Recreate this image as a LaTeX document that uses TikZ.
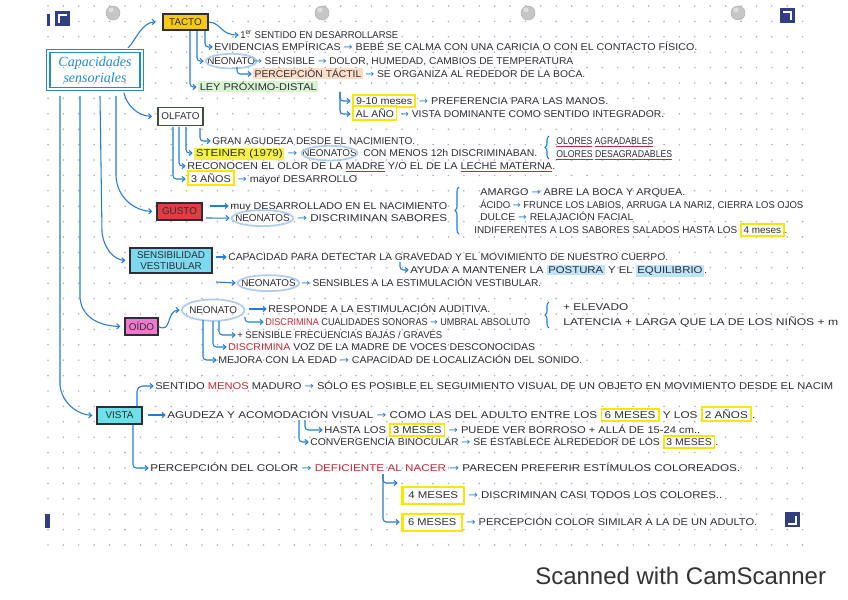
\documentclass[tikz,border=0pt]{standalone}
\usepackage{fontspec}
\setmainfont{Liberation Sans}
\newfontfamily\arrfont{DejaVu Sans}
\newfontfamily\cursfont{Liberation Serif}
\usetikzlibrary{arrows.meta,shapes.geometric,decorations.pathreplacing,calc}
\definecolor{pen}{RGB}{45,45,55}
\definecolor{arrblue}{RGB}{35,125,210}
\definecolor{titleblue}{RGB}{30,140,210}
\definecolor{tactoy}{RGB}{247,200,20}
\definecolor{hly}{RGB}{248,232,0}
\definecolor{stfill}{RGB}{246,240,70}
\definecolor{gustored}{RGB}{228,60,65}
\definecolor{vestcyan}{RGB}{125,218,238}
\definecolor{oidopink}{RGB}{242,120,205}
\definecolor{vistacyan}{RGB}{110,225,232}
\definecolor{redink}{RGB}{200,40,55}
\definecolor{neoblue}{RGB}{175,205,240}
\definecolor{peach}{RGB}{252,222,200}
\definecolor{lgreen}{RGB}{215,245,208}
\definecolor{lblue}{RGB}{190,228,248}
\definecolor{navy}{RGB}{50,62,130}
\definecolor{dotc}{RGB}{175,175,180}
\definecolor{olfborder}{RGB}{60,80,60}
\newcommand\barr{{\arrfont\color{arrblue}→}}
\newcommand\ybx[1]{{\setlength\fboxsep{1.4pt}\setlength\fboxrule{1.2pt}\fcolorbox{hly}{white}{#1}}}
\newcommand\ybig[1]{{\setlength\fboxsep{3pt}\setlength\fboxrule{1.6pt}\fcolorbox{hly}{white}{#1}}}
\newcommand\hlt[2]{{\setlength\fboxsep{1pt}\colorbox{#1}{#2}}}
\newcommand\rul[1]{{\setbox0\hbox{#1}\rlap{\color{redink}\rule[-1.8pt]{\wd0}{0.5pt}}\box0}}
\newcommand\rd[1]{\textcolor{redink}{#1}}
\newcommand\tw[2]{\resizebox{\dimexpr #1pt*3/4\relax}{\height}{#2}}
\tikzset{
 txt/.style={anchor=mid west, inner sep=0pt, text=pen, font=\fontsize{7.4}{9}\selectfont},
 conn/.style={draw=arrblue, line width=0.8pt, -{Straight Barb[length=2.2pt,width=4pt]}, shorten >=1pt},
 hookarr/.style={conn, rounded corners=2.5},
 neo/.style={ellipse, draw=neoblue, line width=1.3pt, inner sep=0pt, minimum width=40pt, minimum height=11pt},
 brc/.style={draw=arrblue, line width=0.8pt, decorate, decoration={brace, amplitude=3pt}},
 sense/.style={draw=pen, line width=0.9pt, inner sep=0pt, text=pen, font=\fontsize{7.4}{8.5}\selectfont, align=center},
 hole/.style={fill=gray!45, draw=gray!60, line width=0.4pt},
}
\begin{document}
\begin{tikzpicture}[x=0.75pt,y=-0.75pt]
\useasboundingbox (0,0) rectangle (848,599);
\fill[white] (0,0) rectangle (848,599);
% dotted paper
\foreach \i in {0,...,49} {\foreach \j in {0,...,35} {\fill[dotc] ({48+15.4*\i},{6+15.4*\j}) circle (0.9);}}
% punch holes
\foreach \hx in {113,322,528,738} {\filldraw[hole] (\hx,13) circle (7); \fill[gray!25] (\hx-2,10) circle (2.5);}
% scanner corner marks
\fill[navy] (47,14) rectangle (50,26);
\fill[navy] (55,11) rectangle (70,26);
\draw[white, line width=1.3pt] (59,23) -- (59,15) -- (67,15);
\fill[navy] (780,8) rectangle (795,23);
\draw[white, line width=1.3pt] (783,12) -- (791,12) -- (791,20);
\fill[navy] (45,514) rectangle (50,528);
\fill[navy] (785,512) rectangle (800,527);
\draw[white, line width=1.3pt] (788,524) -- (796,524) -- (796,516);

% main nodes
\node[draw=titleblue, line width=1pt, double=white, double distance=1.4pt, minimum width=70pt, minimum height=28.5pt, inner sep=0pt, align=center, text=titleblue, font=\cursfont\itshape\fontsize{10.5}{12}\selectfont] (title) at (95,70) {Capacidades\\sensoriales};
\node[sense, fill=tactoy, minimum width=33.75pt, minimum height=12pt] (tacto) at (185.5,22) {TACTO};
\node[sense, fill=white, draw=olfborder, minimum width=33.75pt, minimum height=14pt] (olfato) at (180.5,116.5) {OLFATO};
\node[sense, fill=gustored, minimum width=33.75pt, minimum height=12.75pt] (gusto) at (179.5,211.5) {GUSTO};
\node[sense, fill=vestcyan, minimum width=61.5pt, minimum height=18.75pt] (vest) at (171,260.5) {SENSIBILIDAD\\VESTIBULAR};
\node[sense, fill=oidopink, minimum width=24.75pt, minimum height=12.75pt] (oido) at (141.5,326.5) {OÍDO};
\node[sense, fill=vistacyan, minimum width=33.75pt, minimum height=12.75pt] (vista) at (119.5,415.5) {VISTA};

% connectors from the title
\coordinate (tl1) at (128,48);
\coordinate (tl2) at (124,93);
\coordinate (tl3) at (116,96);
\coordinate (tl4) at (100,96);
\coordinate (tl5) at (80,96);
\coordinate (tl6) at (60,96);
\draw[conn, shorten >=5pt] (tl1) .. controls (136,40) and (142,22) .. (tacto.west);
\draw[conn, shorten >=4pt] (tl2) .. controls (127,106) and (138,116) .. (olfato.west);
\draw[conn, shorten >=3pt] (tl3) -- (116,176) .. controls (117,198) and (135,211) .. (gusto.west);
\draw[conn, shorten >=3pt] (tl4) -- (102,232) .. controls (104,250) and (115,260) .. (vest.west);
\draw[conn, shorten >=3pt] (tl5) -- (80,298) .. controls (82,318) and (100,326) .. (oido.west);
\draw[conn, shorten >=3pt] (tl6) -- (60,385) .. controls (62,405) and (80,415) .. (vista.west);

% ---------------- TACTO
\node[txt] (n11) at (240,35) {\tw{158}{1\textsuperscript{er} SENTIDO EN DESARROLLARSE}};
\node[txt] (n12) at (214,47) {\tw{483}{EVIDENCIAS EMPÍRICAS \barr{} BEBÉ SE CALMA CON UNA CARICIA O CON EL CONTACTO FÍSICO.}};
\node[txt] (n13a) at (207,61) {NEONATO};
\node[neo, minimum width=38pt] (e13) at (n13a.center) {};
\node[txt] (n13b) at (253,61) {\tw{320}{\barr{} SENSIBLE \barr{} DOLOR, HUMEDAD, CAMBIOS DE TEMPERATURA}};
\node[txt] (n14) at (253,74) {\tw{332}{\hlt{peach}{PERCEPCIÓN TÁCTIL} \barr{} SE ORGANIZA AL REDEDOR DE LA BOCA.}};
\node[txt] (n15) at (198,87) {\tw{120}{\hlt{lgreen}{LEY PRÓXIMO-DISTAL}}};
\node[txt] (n16) at (352,101) {\tw{256}{\ybx{9-10 meses} \barr{} PREFERENCIA PARA LAS MANOS.}};
\node[txt] (n17) at (352,114) {\tw{312}{\ybx{AL AÑO} \barr{} VISTA DOMINANTE COMO SENTIDO INTEGRADOR.}};
\draw[conn] (tacto.east) .. controls (222,23) and (220,35) .. (n11.mid west);
\coordinate (ta) at (190,31);
\coordinate (tb) at (197,31);
\coordinate (tc) at (205,31);
\coordinate (td) at (237,67);
\coordinate (te) at (340,92);
\draw[hookarr] (tc) |- (n12.mid west);
\draw[hookarr] (tb) |- (e13.west);
\draw[hookarr] (ta) |- (n15.mid west);
\draw[hookarr] (td) |- (n14.mid west);
\draw[hookarr] (te) |- (n16.mid west);
\draw[hookarr] (te) |- (n17.mid west);

% ---------------- OLFATO
\node[txt] (n21) at (212,141) {\tw{203}{GRAN AGUDEZA DESDE EL NACIMIENTO.}};
\node[txt] (n22a) at (194,153) {\tw{103}{\hlt{stfill}{STEINER (1979)} \barr{}}};
\node[txt] (n22b) at (302,153) {NEONATOS};
\node[neo, minimum width=42pt] (e22) at (n22b.center) {};
\node[txt] (n22c) at (363,153) {\tw{174}{CON MENOS 12h DISCRIMINABAN.}};
\draw[brc] (549,159) -- (549,136);
\node[txt] (n23) at (556,141) {\tw{97}{\rul{OLORES} \rul{AGRADABLES}}};
\node[txt] (n24) at (556,154) {\tw{116}{\rul{OLORES} \rul{DESAGRADABLES}}};
\node[txt] (n25) at (187,166) {\tw{368}{RECONOCEN EL OLOR DE LA \rul{MADRE} Y/O EL DE LA \rul{LECHE MATERNA}.}};
\node[txt] (n26) at (187,179) {\tw{170}{\ybx{3 AÑOS} \barr{} mayor DESARROLLO}};
\coordinate (oa) at (173,127);
\coordinate (ob) at (179,127);
\coordinate (oc) at (186,127);
\coordinate (od) at (200,128);
\draw[hookarr] (od) |- (n21.mid west);
\draw[hookarr] (oc) |- (n22a.mid west);
\draw[hookarr] (ob) |- (n25.mid west);
\draw[hookarr] (oa) |- (n26.mid west);

% ---------------- GUSTO
\node[txt] (n31) at (230,206) {\tw{217}{muy DESARROLLADO EN EL NACIMIENTO}};
\node[txt] (n32a) at (235,218) {NEONATOS};
\node[neo, minimum width=46pt, minimum height=12pt] (e32) at (n32a.center) {};
\node[txt] (n32b) at (297,218) {\tw{150}{\barr{} DISCRIMINAN SABORES}};
\draw[brc] (459,234) -- (459,187);
\node[txt] (n33) at (480,192) {\tw{205}{AMARGO \barr{} ABRE LA BOCA Y ARQUEA.}};
\node[txt] (n34) at (480,205) {\tw{323}{ÁCIDO \barr{} FRUNCE LOS LABIOS, ARRUGA LA NARIZ, CIERRA LOS OJOS}};
\node[txt] (n35) at (480,217) {\tw{153}{DULCE \barr{} RELAJACIÓN FACIAL}};
\node[txt] (n36) at (474,230) {\tw{313}{INDIFERENTES A LOS SABORES SALADOS HASTA LOS \ybx{4 meses}.}};
\coordinate (ga) at (210,206);
\coordinate (gb) at (206,218);
\draw[conn] (ga) -- (n31.mid west);
\draw[conn] (gb) -- (e32.west);

% ---------------- SENSIBILIDAD VESTIBULAR
\node[txt] (n41) at (228,257) {\tw{440}{CAPACIDAD PARA DETECTAR LA GRAVEDAD Y EL MOVIMIENTO DE NUESTRO CUERPO.}};
\node[txt] (n42) at (410,270) {\tw{297}{AYUDA A MANTENER LA \hlt{lblue}{POSTURA} Y EL \hlt{lblue}{EQUILIBRIO}.}};
\node[txt] (n43a) at (241,283) {NEONATOS};
\node[neo, minimum width=46pt, minimum height=12pt] (e43) at (n43a.center) {};
\node[txt] (n43b) at (301,283) {\tw{240}{\barr{} SENSIBLES A LA ESTIMULACIÓN VESTIBULAR.}};
\coordinate (va) at (216,257);
\coordinate (vb) at (400,262);
\coordinate (vc) at (216,282);
\draw[conn] (va) -- (n41.mid west);
\draw[hookarr] (vb) |- (n42.mid west);
\draw[conn] (vc) -- (e43.west);

% ---------------- OIDO
\node[txt] (n50) at (189,310) {NEONATO};
\node[neo, minimum width=47pt, minimum height=16pt] (e50) at (n50.center) {};
\node[txt] (n51) at (268,309) {\tw{222}{RESPONDE A LA ESTIMULACIÓN AUDITIVA.}};
\node[txt] (n52) at (265,322) {\tw{265}{\rd{DISCRIMINA} CUALIDADES SONORAS \barr{} UMBRAL ABSOLUTO}};
\draw[brc] (549,328) -- (549,302);
\node[txt] (n53) at (563,307) {\tw{65}{+ ELEVADO}};
\node[txt] (n54) at (563,322) {\tw{275}{LATENCIA + LARGA QUE LA DE LOS NIÑOS + m}};
\node[txt] (n55) at (237,335) {\tw{205}{+ SENSIBLE FRECUENCIAS BAJAS / GRAVES}};
\node[txt] (n56) at (228,347) {\tw{307}{\rd{DISCRIMINA} VOZ DE LA MADRE DE VOCES DESCONOCIDAS}};
\node[txt] (n57) at (218,360) {\tw{364}{MEJORA CON LA EDAD \barr{} CAPACIDAD DE LOCALIZACIÓN DEL SONIDO.}};
\draw[conn] (oido.east) .. controls (172,334) and (166,310) .. (e50.west);
\coordinate (oa1) at (249,309);
\coordinate (ob1) at (245,317);
\coordinate (oc1) at (203,320);
\coordinate (od1) at (213,321);
\coordinate (oe1) at (219,321);
\draw[conn] (oa1) -- (n51.mid west);
\draw[hookarr] (ob1) |- (n52.mid west);
\draw[hookarr] (oc1) |- (n57.mid west);
\draw[hookarr] (od1) |- (n56.mid west);
\draw[hookarr] (oe1) |- (n55.mid west);

% ---------------- VISTA
\node[txt] (n61) at (155,386) {\tw{678}{SENTIDO \rd{MENOS} MADURO \barr{} SÓLO ES POSIBLE EL SEGUIMIENTO VISUAL DE UN OBJETO EN MOVIMIENTO DESDE EL NACIM}};
\node[txt] (n62) at (167,415) {\tw{588}{AGUDEZA Y ACOMODACIÓN VISUAL \barr{} COMO LAS DEL ADULTO ENTRE LOS \ybx{6 MESES} Y LOS \ybx{2 AÑOS}.}};
\node[txt] (n63) at (324,430) {\tw{376}{HASTA LOS \ybx{3 MESES} \barr{} PUEDE VER BORROSO + ALLÁ DE 15-24 cm..}};
\node[txt] (n64) at (310,442) {\tw{408}{CONVERGENCIA BINOCULAR \barr{} SE ESTABLECE ALREDEDOR DE LOS \ybx{3 MESES}.}};
\node[txt] (n65) at (150,468) {\tw{590}{PERCEPCIÓN DEL COLOR \barr{} \rd{DEFICIENTE AL NACER} \barr{} PARECEN PREFERIR ESTÍMULOS COLOREADOS.}};
\node[txt] (n66) at (401,495) {\tw{321}{\ybig{4 MESES} \barr{} DISCRIMINAN CASI TODOS LOS COLORES..}};
\node[txt] (n67) at (401,522) {\tw{356}{\ybig{6 MESES} \barr{} PERCEPCIÓN COLOR SIMILAR A LA DE UN ADULTO.}};
\coordinate (wa) at (137,406);
\coordinate (wb) at (148,415);
\coordinate (wc) at (299,420);
\coordinate (wd) at (305,420);
\coordinate (we) at (133,425);
\coordinate (wf) at (383,474);
\coordinate (wg) at (399,483);
\draw[hookarr, rounded corners=4] (wa) |- (n61.mid west);
\draw[conn] (wb) -- (n62.mid west);
\draw[hookarr] (wd) |- (n63.mid west);
\draw[hookarr] (wc) |- (n64.mid west);
\draw[hookarr] (we) |- (n65.mid west);
\draw[hookarr] (wf) |- (wg);
\draw[hookarr] (wf) |- (n67.mid west);

% footer
\node[anchor=west, inner sep=0pt, text=black!80, font=\fontsize{18}{21}\selectfont] (scan) at (535,576) {Scanned with CamScanner};
\end{tikzpicture}
\end{document}
